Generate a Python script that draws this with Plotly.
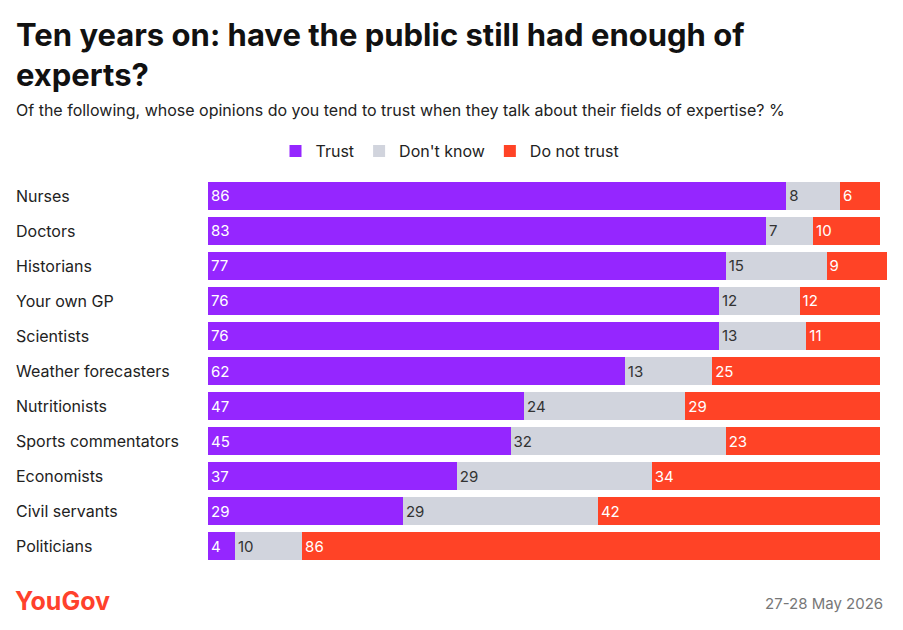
import plotly.graph_objects as go

categories = ["Nurses","Doctors","Historians","Your own GP","Scientists","Weather forecasters",
              "Nutritionists","Sports commentators","Economists","Civil servants","Politicians"]
trust = [86,83,77,76,76,62,47,45,37,29,4]
dont_know = [8,7,15,12,13,13,24,32,29,29,10]
not_trust = [6,10,9,12,11,25,29,23,34,42,86]

OFF = 8  # browser body offset
W, H = 903 - OFF, 630 - OFF
ML, MR, MT, MB = 208 - OFF, 16, 178 - OFF, 66
PW = W - ML - MR
PH = H - MT - MB

fig = go.Figure()
series = [("Trust", trust, "#9526ff", "white"),
          ("Don't know", dont_know, "#d1d4dd", "#333333"),
          ("Do not trust", not_trust, "#ff4326", "white")]
for name, vals, col, tc in series:
    fig.add_trace(go.Bar(
        y=categories, x=vals, name=name, orientation="h",
        marker=dict(color=col, line=dict(width=0)),
        text=[str(v) for v in vals], textposition="inside", insidetextanchor="start",
        textfont=dict(color=tc, size=15, family="Inter"), cliponaxis=False,
        constraintext="none", textangle=0))

ann = []
for c in categories:
    ann.append(dict(text=c, x=-(ML - (14 - OFF)) / PW, xref="paper", y=c, yref="y",
                    xanchor="left", showarrow=False, font=dict(size=16, color="#222")))
page = [
    dict(text="<b>Ten years on: have the public still had enough of<br>experts?</b>",
         x=14, y=14, xanchor="left", yanchor="top",
         align="left", font=dict(size=31, color="#111")),
    dict(text="Of the following, whose opinions do you tend to trust when they talk about their fields of expertise? %",
         x=14, y=110, xanchor="left", yanchor="middle", font=dict(size=16, color="#222")),
    dict(text="<b>YouGov</b>", x=13, y=601, xanchor="left", yanchor="middle",
         font=dict(size=25, color="#ff412c")),
    dict(text="27-28 May 2026", x=885, y=603, xanchor="right", yanchor="middle",
         font=dict(size=15, color="#777")),
]
for a in page:
    fx, fy = a["x"] - OFF, a["y"] - OFF
    a.update(x=(fx - ML) / PW, y=1 - (fy - MT) / PH, xref="paper", yref="paper", showarrow=False)
    ann.append(a)

fig.update_layout(
    width=W, height=H, barmode="stack", bargap=0.2,
    margin=dict(l=ML, r=MR, t=MT, b=MB),
    paper_bgcolor="white", plot_bgcolor="white",
    font=dict(family="Inter", color="#222"),
    xaxis=dict(range=[0, 101], visible=False),
    yaxis=dict(autorange="reversed", showticklabels=False, showgrid=False, zeroline=False),
    legend=dict(orientation="h", x=(450 - OFF - ML) / PW, xanchor="center",
                y=1 + (MT - (151 - OFF)) / PH, yanchor="middle", font=dict(size=16),
                traceorder="normal"),
    annotations=ann, showlegend=True,
)
fig.write_html("out.html")
